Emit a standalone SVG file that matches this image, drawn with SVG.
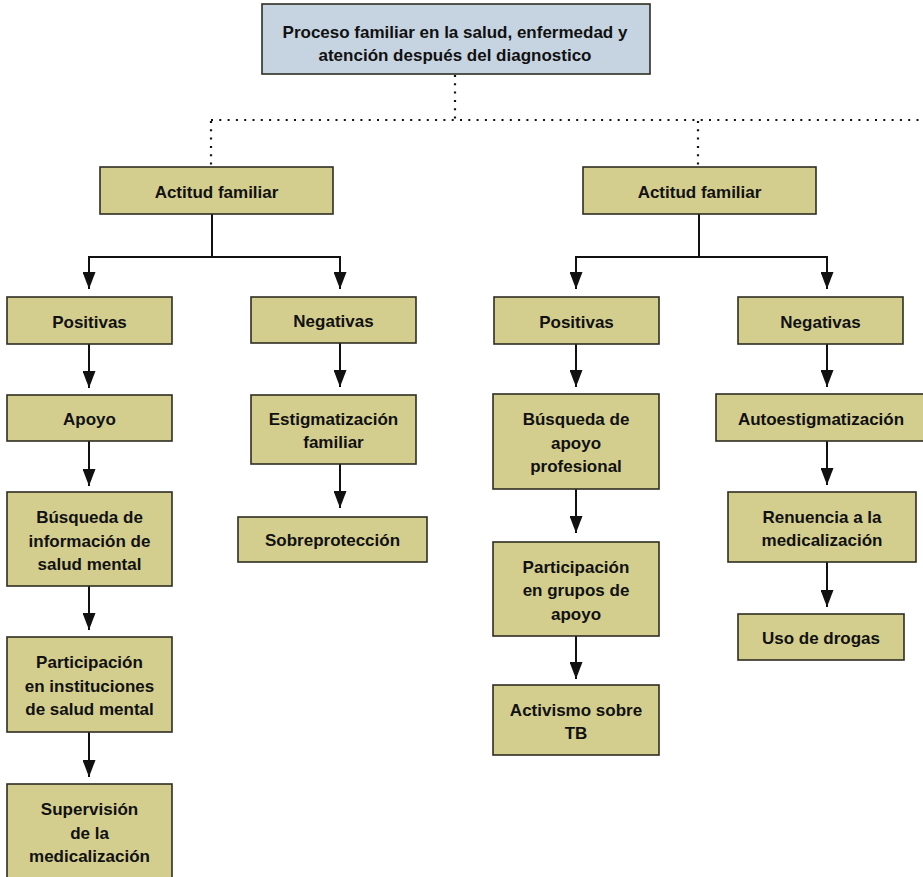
<svg xmlns="http://www.w3.org/2000/svg" width="923" height="877" viewBox="0 0 923 877">
<style>
.box{fill:#d4ce8e;stroke:#2e2e22;stroke-width:1.6}
.top{fill:#c6d4e1;stroke:#2e2e22;stroke-width:1.6}
text{font-family:"Liberation Sans",Arial,sans-serif;font-weight:bold;font-size:17px;fill:#111;text-anchor:middle}
.dot{fill:none;stroke:#111;stroke-width:2.2;stroke-dasharray:2 6.3}
.ln{fill:none;stroke:#111;stroke-width:2}
.ar{fill:none;stroke:#111;stroke-width:2;marker-end:url(#ah)}
</style>
<defs>
<marker id="ah" markerUnits="userSpaceOnUse" viewBox="0 0 17 13" refX="17" refY="6.5" markerWidth="17" markerHeight="13" orient="auto">
<path d="M0,0 L17,6.5 L0,13 z" fill="#111"/>
</marker>
</defs>
<rect width="923" height="877" fill="#fff"/>
<g id="connectors">
<path class="dot" d="M455,75 V120"/>
<path class="dot" d="M211,120 H923"/>
<path class="dot" d="M211,121 V167"/>
<path class="dot" d="M698,121 V167"/>
<path class="ln" d="M212,214 V257 M89,257 H340"/>
<path class="ar" d="M89,256 V289"/>
<path class="ar" d="M340,256 V289"/>
<path class="ln" d="M699,214 V257 M576,257 H827"/>
<path class="ar" d="M576,256 V289"/>
<path class="ar" d="M827,256 V289"/>
<path class="ar" d="M89,344 V388"/>
<path class="ar" d="M89,441 V486"/>
<path class="ar" d="M89,586 V630"/>
<path class="ar" d="M89,732 V777"/>
<path class="ar" d="M340,343 V387"/>
<path class="ar" d="M340,464 V508"/>
<path class="ar" d="M576,344 V387"/>
<path class="ar" d="M576,489 V533"/>
<path class="ar" d="M576,636 V679"/>
<path class="ar" d="M827,344 V387"/>
<path class="ar" d="M827,441 V485"/>
<path class="ar" d="M827,562 V607"/>
</g>
<g id="n-root"><rect class="top" x="262" y="4" width="388" height="70"/><text x="455" y="37.5">Proceso familiar en la salud, enfermedad y</text><text x="455" y="61">atención después del diagnostico</text></g>
<g id="n-actitud-l"><rect class="box" x="100" y="167" width="233" height="47"/><text x="216.5" y="197.5">Actitud familiar</text></g>
<g id="n-actitud-r"><rect class="box" x="583" y="167" width="233" height="47"/><text x="699.5" y="197.5">Actitud familiar</text></g>
<g id="n-pos-l"><rect class="box" x="7" y="297" width="165" height="47"/><text x="89.5" y="327.5">Positivas</text></g>
<g id="n-neg-l"><rect class="box" x="251" y="297" width="165" height="46"/><text x="333.5" y="327">Negativas</text></g>
<g id="n-apoyo"><rect class="box" x="7" y="395" width="165" height="46"/><text x="89.5" y="425">Apoyo</text></g>
<g id="n-busq-info"><rect class="box" x="7" y="492" width="165" height="94"/><text x="89.5" y="523">Búsqueda de</text><text x="89.5" y="546.5">información de</text><text x="89.5" y="570">salud mental</text></g>
<g id="n-part-inst"><rect class="box" x="7" y="637" width="165" height="95"/><text x="89.5" y="668">Participación</text><text x="89.5" y="691.5">en instituciones</text><text x="89.5" y="715">de salud mental</text></g>
<g id="n-superv"><rect class="box" x="7" y="784" width="165" height="100"/><text x="89.5" y="815">Supervisión</text><text x="89.5" y="838.5">de la</text><text x="89.5" y="862">medicalización</text></g>
<g id="n-estig"><rect class="box" x="251" y="395" width="165" height="69"/><text x="333.5" y="424.5">Estigmatización</text><text x="333.5" y="448">familiar</text></g>
<g id="n-sobre"><rect class="box" x="238" y="517" width="189" height="45"/><text x="332.5" y="546">Sobreprotección</text></g>
<g id="n-pos-r"><rect class="box" x="494" y="297" width="165" height="47"/><text x="576.5" y="327.5">Positivas</text></g>
<g id="n-neg-r"><rect class="box" x="738" y="297" width="165" height="47"/><text x="820.5" y="327.5">Negativas</text></g>
<g id="n-busq-apoyo"><rect class="box" x="493" y="394" width="166" height="95"/><text x="576" y="425">Búsqueda de</text><text x="576" y="448.5">apoyo</text><text x="576" y="472">profesional</text></g>
<g id="n-part-grupos"><rect class="box" x="493" y="542" width="166" height="94"/><text x="576" y="572.5">Participación</text><text x="576" y="596">en grupos de</text><text x="576" y="619.5">apoyo</text></g>
<g id="n-activismo"><rect class="box" x="493" y="685" width="166" height="70"/><text x="576" y="715.5">Activismo sobre</text><text x="576" y="739">TB</text></g>
<g id="n-autoestig"><rect class="box" x="716" y="394" width="212" height="47"/><text x="821" y="424.5">Autoestigmatización</text></g>
<g id="n-renuencia"><rect class="box" x="728" y="492" width="188" height="70"/><text x="822" y="522.5">Renuencia a la</text><text x="822" y="546">medicalización</text></g>
<g id="n-drogas"><rect class="box" x="738" y="614" width="166" height="46"/><text x="821" y="644">Uso de drogas</text></g>
</svg>
